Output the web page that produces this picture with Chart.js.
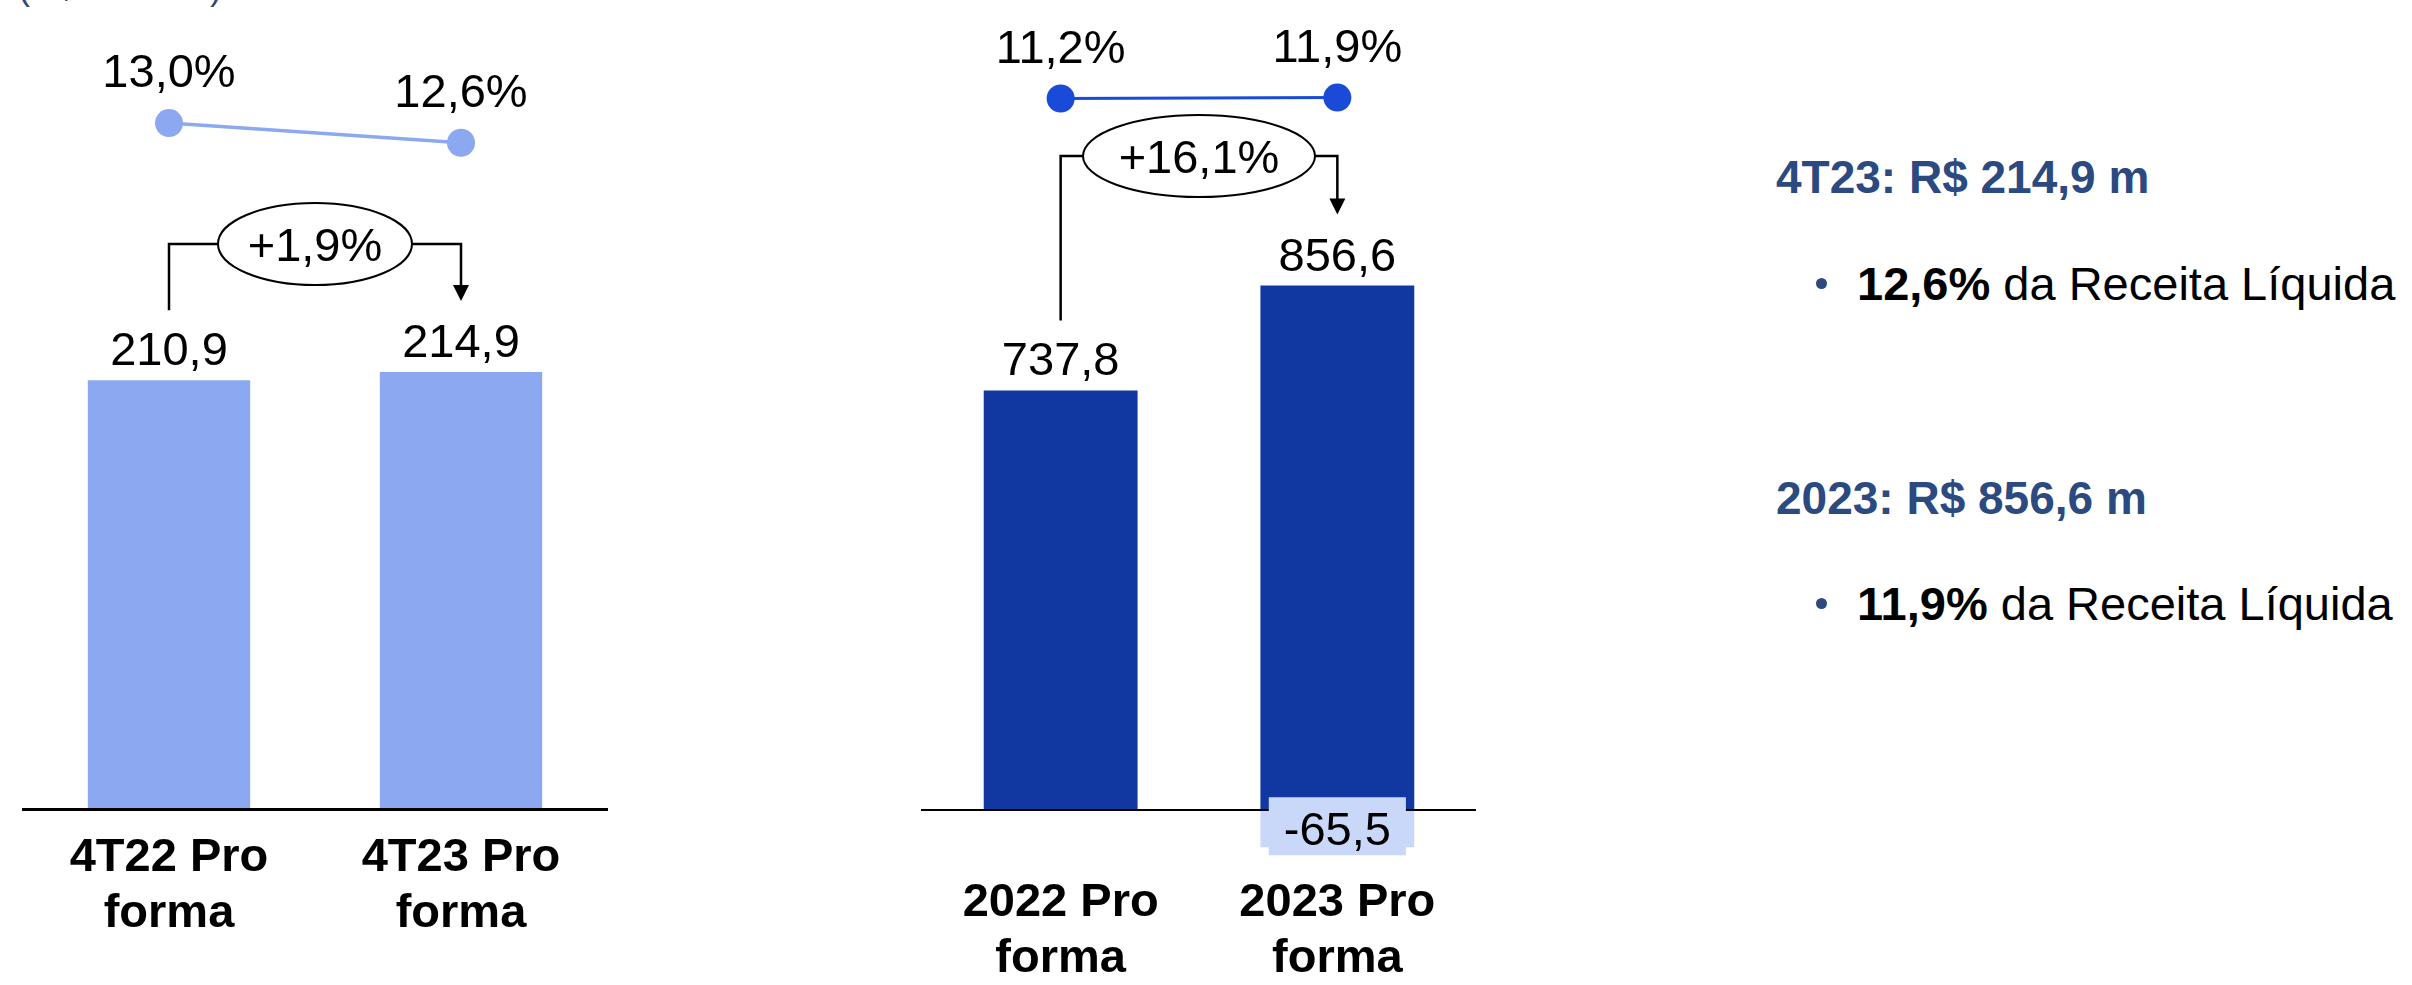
<!DOCTYPE html>
<html lang="pt-BR">
<head>
<meta charset="utf-8">
<title>EBITDA Pro forma</title>
<script src="https://cdn.jsdelivr.net/npm/chart.js@4.4.1/dist/chart.umd.min.js"></script>
<style>
    html, body { margin: 0; padding: 0; background: #fff; }
    body { width: 2412px; height: 985px; position: relative; overflow: hidden; font-family: 'Liberation Sans', Arial, sans-serif; }
    canvas { position: absolute; top: 0; }
    #graficoTri { left: 9px; }
    #graficoAno { left: 897px; }
    .unidade { position: absolute; left: 18px; top: -31px; font-size: 36px; line-height: 36px; color: #2B4A80; white-space: nowrap; }
    .titulo { position: absolute; left: 1776px; font-size: 46px; line-height: 46px; font-weight: bold; color: #2B4A80; white-space: nowrap; }
    .item { position: absolute; left: 1857px; font-size: 47px; line-height: 47px; color: #000; white-space: nowrap; }
    .ponto { position: absolute; left: 1816px; width: 11px; height: 11px; border-radius: 50%; background: #2B4A80; }
</style>
</head>
<body>
<div class="unidade">(R$ milhões)</div>
<canvas id="graficoTri" width="612" height="985"></canvas>
<canvas id="graficoAno" width="604" height="985"></canvas>

<div class="titulo" style="top:154px">4T23: R$ 214,9 m</div>
<span class="ponto" style="top:278px"></span>
<div class="item" style="top:260px"><b>12,6%</b> da Receita Líquida</div>
<div class="titulo" style="top:475px">2023: R$ 856,6 m</div>
<span class="ponto" style="top:598px"></span>
<div class="item" style="top:580px"><b>11,9%</b> da Receita Líquida</div>

<script>
// --- DADOS ---
// Trimestre
const categoriasTri = [['4T22 Pro', 'forma'], ['4T23 Pro', 'forma']];
const ebitdaTri = [210.9, 214.9];
const margemTri = [13.0, 12.6];
const variacaoTri = '+1,9%';

// Ano
const categoriasAno = [['2022 Pro', 'forma'], ['2023 Pro', 'forma']];
const ebitdaAno = [737.8, 856.6];     // valores dos rótulos
const barraAno = [737.8, 922.1];      // parte positiva da barra
const ajusteAno = [null, -65.5];      // parte negativa (abaixo do eixo)
const margemAno = [11.2, 11.9];
const variacaoAno = '+16,1%';

const FONTE = "'Liberation Sans', Arial, sans-serif";
Chart.defaults.font.family = FONTE;

// número com vírgula decimal
function fmt(v) {
    return v.toFixed(1).replace('.', ',');
}

// Rótulos, chave de variação e caixa do ajuste
const anotacoes = {
    id: 'anotacoes',
    afterDraw(chart, args, opts) {
        const ctx = chart.ctx;
        const barras = chart.getDatasetMeta(0).data;
        const pontos = chart.getDatasetMeta(opts.linha).data;

        ctx.save();
        ctx.fillStyle = '#000';
        ctx.textAlign = 'center';
        ctx.textBaseline = 'alphabetic';
        ctx.font = '47px ' + FONTE;

        // margens acima dos pontos
        pontos.forEach((p, i) => ctx.fillText(fmt(opts.margens[i]) + '%', p.x, p.y - 36));

        // valores acima das barras
        const topos = barras.map((b, i) => {
            const base = b.y - 15;
            ctx.fillText(fmt(opts.totais[i]), b.x, base);
            return base - 34;
        });

        // chave com a variação
        const x1 = barras[0].x, x2 = barras[1].x, yN = opts.nivel;
        const cx = (x1 + x2) / 2;
        const ponta = topos[1] - 22;
        ctx.strokeStyle = '#000';
        ctx.lineWidth = 2.5;
        ctx.beginPath();
        ctx.moveTo(x1, topos[0] - 21);
        ctx.lineTo(x1, yN);
        ctx.lineTo(cx - opts.rx, yN);
        ctx.moveTo(cx + opts.rx, yN);
        ctx.lineTo(x2, yN);
        ctx.lineTo(x2, ponta - 14);
        ctx.stroke();
        ctx.beginPath();
        ctx.moveTo(x2 - 8, ponta - 16);
        ctx.lineTo(x2 + 8, ponta - 16);
        ctx.lineTo(x2, ponta);
        ctx.closePath();
        ctx.fill();

        ctx.beginPath();
        ctx.ellipse(cx, yN, opts.rx, 41, 0, 0, Math.PI * 2);
        ctx.fillStyle = '#fff';
        ctx.fill();
        ctx.lineWidth = 2;
        ctx.stroke();
        ctx.fillStyle = '#000';
        ctx.fillText(opts.variacao, cx, yN + 17);

        // rótulo do ajuste negativo, com fundo
        if (opts.ajuste != null) {
            const el = chart.getDatasetMeta(opts.ajuste).data[1];
            const txt = fmt(ajusteAno[1]);
            const w = ctx.measureText(txt).width + 30;
            const base = el.y - 2;
            ctx.fillStyle = '#C9D7F8';
            ctx.fillRect(el.x - w / 2, base - 48, w, 58);
            ctx.fillStyle = '#000';
            ctx.fillText(txt, el.x, base);
        }
        ctx.restore();
    }
};

function eixoX(padding, largura, altura) {
    return {
        stacked: true,
        grid: { display: false, drawTicks: false },
        border: { display: true, color: '#000', width: largura, z: 1 },
        ticks: {
            color: '#000',
            padding: padding,
            maxRotation: 0,
            autoSkip: false,
            font: { size: 47, weight: 'bold', lineHeight: 1.19 }
        },
        afterFit: (scale) => { scale.height = altura; }
    };
}

const comum = {
    responsive: false,
    animation: false,
    events: [],
    layout: { padding: 0 },
};

// Gráfico do trimestre
new Chart(document.getElementById('graficoTri'), {
    type: 'bar',
    data: {
        labels: categoriasTri,
        datasets: [
            { data: ebitdaTri, backgroundColor: '#8BA8F0', yAxisID: 'y', barPercentage: 0.556, categoryPercentage: 1 },
            { type: 'line', data: margemTri, yAxisID: 'y2', borderColor: '#8BA8F0', borderWidth: 3.5,
              pointRadius: 14, pointBackgroundColor: '#8BA8F0', pointBorderWidth: 0, fill: false }
        ]
    },
    options: {
        ...comum,
        plugins: {
            legend: { display: false },
            tooltip: { enabled: false },
            anotacoes: { linha: 1, margens: margemTri, totais: ebitdaTri, variacao: variacaoTri, nivel: 244, rx: 97, ajuste: null }
        },
        scales: {
            x: eixoX(21, 3, 176),
            y: { display: false, min: 0, max: 391 },
            y2: { display: false, min: -0.96, max: 15.22 }
        }
    },
    plugins: [anotacoes]
});

// Gráfico do ano
new Chart(document.getElementById('graficoAno'), {
    type: 'bar',
    data: {
        labels: categoriasAno,
        datasets: [
            { data: barraAno, backgroundColor: '#1137A0', yAxisID: 'y', stack: 'a', barPercentage: 0.556, categoryPercentage: 1 },
            { data: ajusteAno, backgroundColor: '#C9D7F8', yAxisID: 'y', stack: 'a', barPercentage: 0.556, categoryPercentage: 1, clip: false },
            { type: 'line', data: margemAno, yAxisID: 'y2', borderColor: '#1A4BD8', borderWidth: 3,
              pointRadius: 14, pointBackgroundColor: '#1A4BD8', pointBorderWidth: 0, fill: false }
        ]
    },
    options: {
        ...comum,
        plugins: {
            legend: { display: false },
            tooltip: { enabled: false },
            anotacoes: { linha: 2, margens: margemAno, totais: ebitdaAno, variacao: variacaoAno, nivel: 156, rx: 116, ajuste: 1 }
        },
        scales: {
            x: eixoX(65, 2, 175),
            y: { display: false, stacked: true, min: 0, max: 1399.7 },
            y2: { display: false, min: -495.6, max: 71.4 }
        }
    },
    plugins: [anotacoes]
});
</script>
</body>
</html>
